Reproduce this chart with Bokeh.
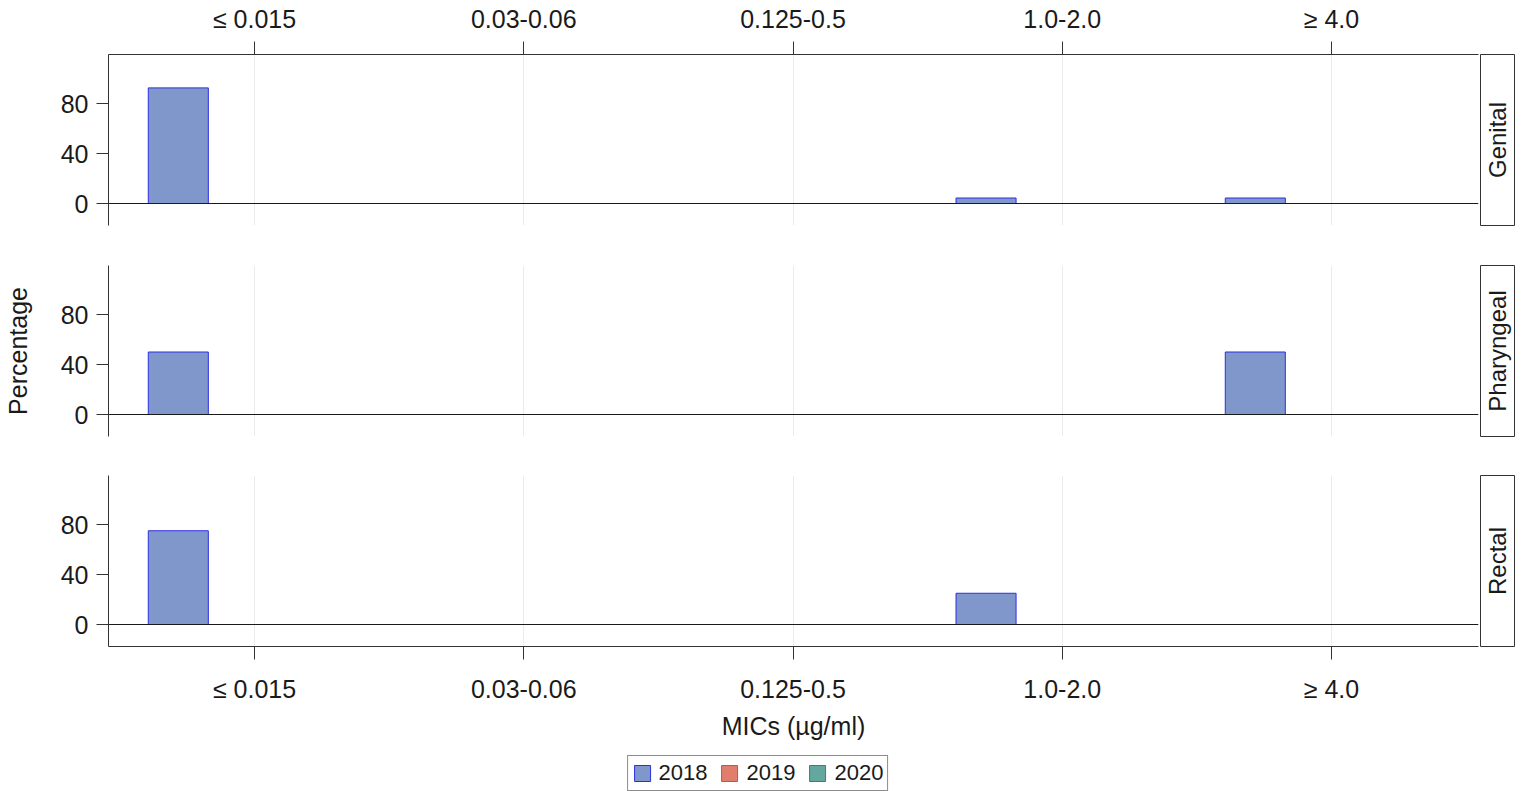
import math
import numpy as np
from bokeh.plotting import figure
from bokeh.models import (Range1d, FixedTicker, Grid, Span, Legend, LegendItem,
                          ColumnDataSource)
from bokeh.layouts import column, row
from bokeh.transform import dodge
from bokeh.core.properties import value
from bokeh.embed import file_html
from bokeh.resources import INLINE

# ---------------- data ----------------
categories = ["≤ 0.015", "0.03-0.06", "0.125-0.5", "1.0-2.0", "≥ 4.0"]
sites = ["Genital", "Pharyngeal", "Rectal"]
years = ["2018", "2019", "2020"]

genital_2018 = [92.5, 0, 0, 4.4, 4.4]
genital_2019 = [0, 0, 0, 0, 0]
genital_2020 = [0, 0, 0, 0, 0]
pharyngeal_2018 = [50, 0, 0, 0, 50]
pharyngeal_2019 = [0, 0, 0, 0, 0]
pharyngeal_2020 = [0, 0, 0, 0, 0]
rectal_2018 = [75, 0, 0, 25, 0]
rectal_2019 = [0, 0, 0, 0, 0]
rectal_2020 = [0, 0, 0, 0, 0]

y_ticks = [0, 40, 80]

data = {
    "Genital": [genital_2018, genital_2019, genital_2020],
    "Pharyngeal": [pharyngeal_2018, pharyngeal_2019, pharyngeal_2020],
    "Rectal": [rectal_2018, rectal_2019, rectal_2020],
}

# ---------------- style ----------------
FONT = "Liberation Sans"
fill_colors = {"2018": "#7F97CB", "2019": "#E07D6C", "2020": "#63A79E"}
line_colors = {"2018": "#2E2EE0", "2019": "#D04A5A", "2020": "#2E8577"}
offsets = {"2018": -0.283, "2019": 0.0, "2020": 0.283}
BAR_W = 0.223
AX_COL = "#333333"

X0, X1 = 0.4577, 5.546
Y0, Y1 = -17.6, 119.2
FRAME_H = 171
PANEL_W = 1480
STRIP_W = 35

xt = list(range(1, len(categories) + 1))
overrides = {i + 1: c for i, c in enumerate(categories)}

layout_spec = [
    # (top border, bottom border)
    (54, 20),
    (20, 19),
    (20, 104),
]

rows = []
for k, site in enumerate(sites):
    top_b, bot_b = layout_spec[k]
    h = top_b + FRAME_H + bot_b
    first = k == 0
    last = k == len(sites) - 1
    xloc = "above" if first else ("below" if last else None)
    p = figure(width=PANEL_W, height=h, x_range=Range1d(X0, X1), y_range=Range1d(Y0, Y1),
               output_backend="svg", toolbar_location=None,
               x_axis_location=xloc, y_axis_location="left",
               min_border_left=108, min_border_right=2,
               min_border_top=top_b, min_border_bottom=bot_b,
               outline_line_color=None, background_fill_color="white",
               border_fill_color="white")
    for g in p.grid:
        g.visible = False
    p.add_layout(Grid(dimension=0, ticker=FixedTicker(ticks=xt),
                      grid_line_color="#EBEBEB", grid_line_width=1))

    # y axis
    ya = p.yaxis[0]
    ya.ticker = FixedTicker(ticks=y_ticks)
    ya.major_label_text_font = FONT
    ya.major_label_text_font_size = "25px"
    ya.major_label_text_color = "#1a1a1a"
    ya.major_tick_in = 0
    ya.major_tick_out = 12
    ya.major_tick_line_color = AX_COL
    ya.minor_tick_line_color = None
    ya.major_label_standoff = 8
    ya.axis_line_color = AX_COL
    if k == 1:
        ya.axis_label = "Percentage"
        ya.axis_label_text_font = FONT
        ya.axis_label_text_font_size = "25px"
        ya.axis_label_text_font_style = "normal"
        ya.axis_label_text_color = "#1a1a1a"
        ya.axis_label_standoff = 26

    if xloc is not None:
        xa = p.xaxis[0]
        xa.ticker = FixedTicker(ticks=xt)
        xa.major_label_overrides = overrides
        xa.major_label_text_font = FONT
        xa.major_label_text_font_size = "25px"
        xa.major_label_text_color = "#1a1a1a"
        xa.major_tick_in = 0
        xa.major_tick_out = 13
        xa.major_tick_line_color = AX_COL
        xa.minor_tick_line_color = None
        xa.axis_line_color = AX_COL
        xa.major_label_standoff = 9 if first else 15
        if last:
            xa.axis_label = "MICs (µg/ml)"
            xa.axis_label_text_font = FONT
            xa.axis_label_text_font_size = "25px"
            xa.axis_label_text_font_style = "normal"
            xa.axis_label_text_color = "#1a1a1a"
            xa.axis_label_standoff = 6

    for yi, yr in enumerate(years):
        vals = data[site][yi]
        xs = [xt[i] for i, v in enumerate(vals) if v > 0]
        tops = [v for v in vals if v > 0]
        src = ColumnDataSource(dict(x=xs, top=tops))
        p.vbar(x=dodge("x", offsets[yr]), top="top", bottom=0, width=BAR_W,
               source=src, fill_color=fill_colors[yr], line_color=line_colors[yr],
               line_width=1)

    p.add_layout(Span(location=0, dimension="width", line_color="#1a1a1a", line_width=1.2))

    s = figure(width=STRIP_W, height=h, x_range=Range1d(0, 1), y_range=Range1d(0, 1),
               output_backend="svg", toolbar_location=None,
               x_axis_location=None, y_axis_location=None,
               min_border_left=0, min_border_right=1,
               min_border_top=top_b, min_border_bottom=bot_b,
               outline_line_color=AX_COL, outline_line_width=1,
               background_fill_color="white", border_fill_color="white")
    for g in s.grid:
        g.visible = False
    s.text(x=[0.5], y=[0.5], text=[site], angle=math.pi / 2, text_align="center",
           text_baseline="middle", text_font=value(FONT), text_font_size=value("24px"),
           text_color="#1a1a1a")
    rows.append(row(p, s))

# ---------------- legend (own strip below the panels) ----------------
lg = figure(width=PANEL_W + STRIP_W, height=41, x_range=Range1d(0, 1), y_range=Range1d(0, 1),
            output_backend="svg", toolbar_location=None,
            x_axis_location=None, y_axis_location=None,
            min_border=0, outline_line_color=None,
            background_fill_color="white", border_fill_color="white")
for g in lg.grid:
    g.visible = False
items = []
for yr in years:
    # legend-only proxy: one row with an undefined height, so nothing is drawn in the plot
    proxy = ColumnDataSource(dict(x=np.array([0.5]), top=np.array([np.nan])))
    r = lg.vbar(x="x", top="top", width=0.1, source=proxy, fill_color=fill_colors[yr],
                line_color=line_colors[yr], line_width=1)
    items.append(LegendItem(label=yr, renderers=[r]))
legend = Legend(items=items, orientation="horizontal", location="top_center",
                label_text_font=FONT, label_text_font_size="22px",
                label_text_color="#1a1a1a",
                glyph_width=20, glyph_height=20, label_standoff=7, spacing=12,
                padding=4, margin=5, border_line_color="#1a1a1a", border_line_width=1,
                background_fill_color="white", background_fill_alpha=1)
lg.add_layout(legend)

layout = column(*rows, lg)
open("out.html", "w").write(file_html(layout, INLINE))
